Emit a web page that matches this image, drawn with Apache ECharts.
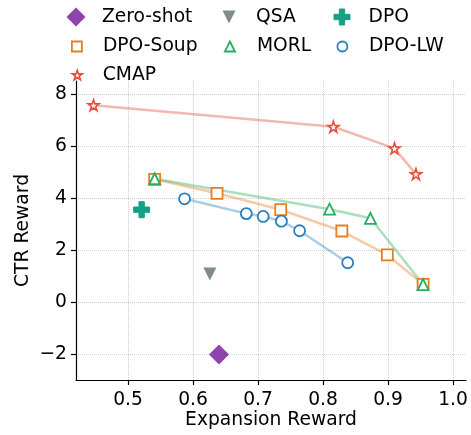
<!DOCTYPE html>
<html><head><meta charset="utf-8">
<script src="https://cdn.jsdelivr.net/npm/echarts@6/dist/echarts.min.js"></script>
<style>html,body{margin:0;padding:0;background:#fff}#c{width:471px;height:435px}</style>
</head><body><div id="c"></div>
<script>
// ---- data ----
const xTicks = [0.5, 0.6, 0.7, 0.8, 0.9, 1.0];
const yTicks = [-2, 0, 2, 4, 6, 8];
const zeroShotX = [0.640];  const zeroShotY = [-2.02];
const qsaX = [0.626];       const qsaY = [1.08];
const dpoX = [0.521];       const dpoY = [3.55];
const soupX = [0.541, 0.637, 0.735, 0.829, 0.899, 0.954];
const soupY = [4.72, 4.18, 3.55, 2.73, 1.81, 0.68];
const morlX = [0.541, 0.810, 0.873, 0.954];
const morlY = [4.74, 3.57, 3.22, 0.67];
const lwX = [0.587, 0.682, 0.708, 0.736, 0.764, 0.838];
const lwY = [3.97, 3.40, 3.29, 3.11, 2.74, 1.51];
const cmapX = [0.447, 0.816, 0.910, 0.943];
const cmapY = [7.57, 6.74, 5.91, 4.92];

const FONT = 'DejaVu Sans';
const FS = 18.7;
const zip = (xs, ys) => xs.map((x, i) => [x, ys[i]]);

function starPath() {
  const pts = [];
  for (let i = 0; i < 10; i++) {
    const r = i % 2 ? 0.382 : 1;
    const a = Math.PI / 2 - i * Math.PI / 5;
    pts.push([r * Math.cos(a), -r * Math.sin(a)]);
  }
  return 'path://M' + pts.map(p => p[0].toFixed(3) + ',' + p[1].toFixed(3)).join('L') + 'Z';
}
const STAR = starPath();
const PLUS = 'path://M1,0L2,0L2,1L3,1L3,2L2,2L2,3L1,3L1,2L0,2L0,1L1,1Z';
const TRI_DOWN = 'path://M0,0L2,0L1,2Z';

const entries = [
  {name: 'Zero-shot', xs: zeroShotX, ys: zeroShotY, symbol: 'diamond', size: 20, fill: '#8e44ad', stroke: '#8e44ad', bw: 0, cx: 76, cy: 17, tx: 102, ls: 19},
  {name: 'QSA', xs: qsaX, ys: qsaY, symbol: TRI_DOWN, size: 13, fill: '#7f8c8d', stroke: '#7f8c8d', bw: 0, cx: 229, cy: 17, tx: 256, ls: 13},
  {name: 'DPO', xs: dpoX, ys: dpoY, symbol: PLUS, size: 16, fill: '#16a085', stroke: '#16a085', bw: 1, cx: 341.5, cy: 17, tx: 368, ls: 16},
  {name: 'DPO-Soup', xs: soupX, ys: soupY, symbol: 'rect', size: 11, fill: '#fff', stroke: '#e67e22', bw: 1.8, cx: 76, cy: 46.5, tx: 102, ls: 10, line: true},
  {name: 'MORL', xs: morlX, ys: morlY, symbol: 'triangle', size: 11, fill: '#fff', stroke: '#27ae60', bw: 1.8, cx: 229, cy: 46.5, tx: 256, ls: 10, line: true},
  {name: 'DPO-LW', xs: lwX, ys: lwY, symbol: 'circle', size: 11, fill: '#fff', stroke: '#2a7fbf', bw: 1.8, cx: 341.5, cy: 46.5, tx: 368, ls: 10, line: true},
  {name: 'CMAP', xs: cmapX, ys: cmapY, symbol: STAR, size: 11, fill: '#fff', stroke: '#e74c3c', bw: 1.6, cx: 76.5, cy: 75, tx: 102, ls: 10, line: true}
];

const series = [];
entries.forEach(e => {
  if (e.line) {
    series.push({
      type: 'line', name: e.name + ' trend', data: zip(e.xs, e.ys),
      showSymbol: false, symbol: 'none', silent: true, z: 1,
      lineStyle: {color: e.stroke, width: 2.5, opacity: 0.4}
    });
  }
});
entries.forEach(e => {
  series.push({
    type: 'scatter', name: e.name, data: zip(e.xs, e.ys),
    symbol: e.symbol, symbolSize: e.size, z: 3,
    itemStyle: {color: e.fill, borderColor: e.stroke, borderWidth: e.bw, opacity: 1}
  });
});

const TEXT_H = 20;
const legends = entries.map(e => {
  const padL = e.tx - e.cx - e.ls / 2 - 5;
  return {
    data: [{name: e.name, icon: e.symbol,
            itemStyle: {color: e.fill, borderColor: e.stroke, borderWidth: e.bw}}],
    left: e.cx - e.ls / 2,
    top: e.cy - Math.max(e.ls / 2, TEXT_H / 2),
    padding: 0,
    itemWidth: e.ls, itemHeight: e.ls,
    selectedMode: false,
    textStyle: {fontFamily: FONT, fontSize: FS, color: '#000', lineHeight: TEXT_H,
                padding: [0, 0, 0, padL]}
  };
});

const fmtY = v => (v < 0 ? '\u2212' + Math.abs(v) : String(v));

const option = {
  animation: false,
  backgroundColor: '#fff',
  textStyle: {fontFamily: FONT},
  legend: legends,
  grid: {left: 76, right: 5, top: 81, bottom: 54, containLabel: false},
  xAxis: {
    type: 'value', min: 0.42, max: 1.02,
    name: 'Expansion Reward', nameLocation: 'middle', nameGap: 31, nameMoveOverlap: false,
    nameTextStyle: {fontFamily: FONT, fontSize: FS, color: '#000'},
    axisLine: {show: true, onZero: false, lineStyle: {color: '#000', width: 1.2}},
    axisTick: {show: true, customValues: xTicks, length: 5, lineStyle: {color: '#000', width: 1.2}},
    axisLabel: {customValues: xTicks, formatter: v => v.toFixed(1), margin: 11,
                fontFamily: FONT, fontSize: FS, color: '#000'},
    splitLine: {show: true, customValues: xTicks, lineStyle: {type: 'dotted', color: '#cfcfcf', width: 1}}
  },
  yAxis: {
    type: 'value', min: -3, max: 8.5,
    name: 'CTR Reward', nameLocation: 'middle', nameGap: 43, nameRotate: 90, nameMoveOverlap: false,
    nameTextStyle: {fontFamily: FONT, fontSize: FS, color: '#000'},
    axisLine: {show: true, onZero: false, lineStyle: {color: '#000', width: 1.2}},
    axisTick: {show: true, customValues: yTicks, length: 5, lineStyle: {color: '#000', width: 1.2}},
    axisLabel: {customValues: yTicks, formatter: fmtY, margin: 9,
                fontFamily: FONT, fontSize: FS, color: '#000'},
    splitLine: {show: true, customValues: yTicks, lineStyle: {type: 'dotted', color: '#cfcfcf', width: 1}}
  },
  series: series
};

const chart = echarts.init(document.getElementById('c'), null, {renderer: 'canvas'});
chart.setOption(option);
</script>
</body></html>
